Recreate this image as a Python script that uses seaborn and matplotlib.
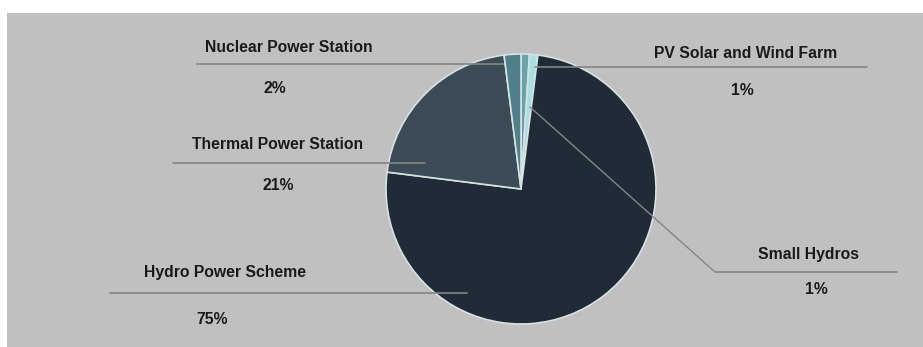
import matplotlib.pyplot as plt
from matplotlib.patches import Rectangle
import seaborn as sns

# data, clockwise from 12 o'clock
sources = ["Small Hydros", "PV Solar and Wind Farm", "Hydro Power Scheme",
           "Thermal Power Station", "Nuclear Power Station"]
shares = [1, 1, 75, 21, 2]
slice_colors = ["#6aa3a8", "#a9dfe2", "#1f2c37", "#3c4c56", "#4f8089"]

# label layout in pixel coords: text centre, leader line (x0, x1, y), pct centre
label_pos = {
    "Nuclear Power Station": (289, 47, 197, 503, 64, 275, 88),
    "PV Solar and Wind Farm": (746, 53, 535, 867, 67, 742, 90),
    "Thermal Power Station": (278, 144, 173, 425, 163, 278, 185),
    "Hydro Power Scheme": (225, 273, 110, 467, 293, 212, 320),
    "Small Hydros": (808, 254, 715, 897, 272, 816, 290),
}

W, H = 923, 347


def main() -> None:
    sns.set_theme(style="white")
    plt.rcParams["font.family"] = ["Liberation Sans", "DejaVu Sans"]
    palette = sns.color_palette(slice_colors)

    fig = plt.figure(figsize=(W / 100, H / 100), dpi=100, facecolor="white")
    ax = fig.add_axes([0, 0, 1, 1])
    ax.set_facecolor("white")
    ax.add_patch(Rectangle((7, 0), W, H - 13, facecolor="#c0c0c0",
                           edgecolor="none", zorder=0))

    ax.pie(shares, colors=palette, startangle=90, counterclock=False,
           center=(521, H - 189), radius=135, frame=True,
           wedgeprops=dict(edgecolor="#d6e2e4", linewidth=1.2, zorder=2))
    ax.set_xlim(0, W)
    ax.set_ylim(0, H)
    ax.axis("off")

    for name, share in zip(sources, shares):
        tx, ty, x0, x1, ly, px, py = label_pos[name]
        ax.text(tx, H - ty, name, ha="center", va="center", fontsize=11.3,
                fontweight="bold", color="#1a1a1a")
        ax.text(px, H - py, f"{share}%", ha="center", va="center", fontsize=11.3,
                fontweight="bold", color="#1a1a1a")
        ax.plot([x0, x1], [H - ly, H - ly], color="#858585", lw=1.2, zorder=5)
    # diagonal leader for Small Hydros
    ax.plot([530, 715], [H - 107, H - 272], color="#858585", lw=1.0, zorder=5)

    fig.savefig("out.png", dpi=100, facecolor="white")


if __name__ == "__main__":
    main()
